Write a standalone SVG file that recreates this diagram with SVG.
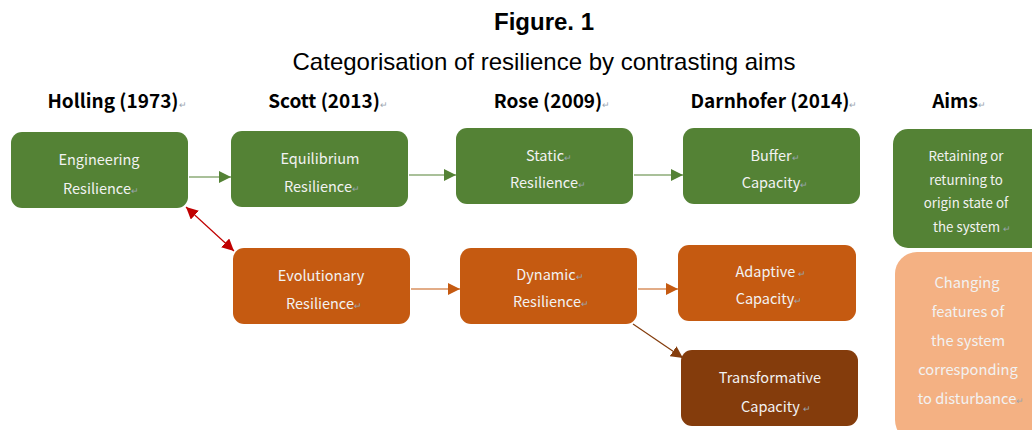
<svg xmlns="http://www.w3.org/2000/svg" width="1032" height="430" viewBox="0 0 1032 430">
  <style>
    .title { font-family: "Liberation Sans", Arial, sans-serif; font-size: 24px; fill: #000; text-anchor: middle; }
    .head { font-family: "Noto Sans CJK KR", "Noto Sans", sans-serif; font-size: 19px; font-weight: bold; fill: #000; text-anchor: middle; }
    .lbl { font-family: "Noto Sans CJK KR", "Noto Sans", sans-serif; font-size: 14.5px; fill: #f2f2f2; text-anchor: middle; }
    .aim1 { font-size: 13.3px; }
    .aim2 { font-size: 14.7px; }
    .pm { font-size: 9px; fill: #9aa5b0; }
    .green { fill: #548235; }
    .orange { fill: #c55a11; }
    .brown { fill: #843c0c; }
    .peach { fill: #f4b183; }
    .conn { fill: none; stroke-width: 1.2; }
  </style>
  <defs>
    <marker id="ahG" viewBox="0 0 10 10" refX="10" refY="5" markerWidth="12" markerHeight="12" markerUnits="userSpaceOnUse" orient="auto">
      <path d="M0,0 L10,5 L0,10 z" fill="#548235"/>
    </marker>
    <marker id="ahO" viewBox="0 0 10 10" refX="10" refY="5" markerWidth="12" markerHeight="12" markerUnits="userSpaceOnUse" orient="auto">
      <path d="M0,0 L10,5 L0,10 z" fill="#c55a11"/>
    </marker>
    <marker id="ahB" viewBox="0 0 10 10" refX="10" refY="5" markerWidth="12" markerHeight="12" markerUnits="userSpaceOnUse" orient="auto">
      <path d="M0,0 L10,5 L0,10 z" fill="#843c0c"/>
    </marker>
    <marker id="ahR" viewBox="0 0 10 10" refX="10" refY="5" markerWidth="12" markerHeight="12" markerUnits="userSpaceOnUse" orient="auto-start-reverse">
      <path d="M0,0 L10,5 L0,10 z" fill="#c00000"/>
    </marker>
  </defs>

  <rect width="1032" height="430" fill="#ffffff"/>

  <!-- titles -->
  <text class="title" x="544" y="30" font-weight="bold">Figure. 1</text>
  <text class="title" x="544" y="70">Categorisation of resilience by contrasting aims</text>

  <!-- column headings -->
  <g id="headings">
    <text class="head" x="117" y="108">Holling (1973)<tspan class="pm" font-weight="normal">↵</tspan></text>
    <text class="head" x="328" y="108">Scott (2013)<tspan class="pm" font-weight="normal">↵</tspan></text>
    <text class="head" x="552" y="108">Rose (2009)<tspan class="pm" font-weight="normal">↵</tspan></text>
    <text class="head" x="774" y="108">Darnhofer (2014)<tspan class="pm" font-weight="normal">↵</tspan></text>
    <text class="head" x="959" y="108">Aims<tspan class="pm" font-weight="normal">↵</tspan></text>
  </g>

  <!-- connectors -->
  <g id="connectors">
    <line class="conn" x1="189" y1="177" x2="231" y2="177" stroke="#548235" marker-end="url(#ahG)"/>
    <line class="conn" x1="409" y1="175" x2="456" y2="175" stroke="#548235" marker-end="url(#ahG)"/>
    <line class="conn" x1="634" y1="175" x2="683" y2="175" stroke="#548235" marker-end="url(#ahG)"/>
    <line class="conn" x1="186" y1="207" x2="234" y2="251" stroke="#c00000" marker-start="url(#ahR)" marker-end="url(#ahR)"/>
    <line class="conn" x1="411" y1="289" x2="460" y2="289" stroke="#c55a11" marker-end="url(#ahO)"/>
    <line class="conn" x1="638" y1="289" x2="678" y2="289" stroke="#c55a11" marker-end="url(#ahO)"/>
    <line class="conn" x1="633" y1="324" x2="683" y2="358" stroke="#843c0c" marker-end="url(#ahB)"/>
  </g>

  <g id="engineering">
    <rect class="green" x="11" y="132" width="177" height="76" rx="11"/>
    <text class="lbl" x="99" y="165">Engineering</text>
    <text class="lbl" x="101" y="194">Resilience<tspan class="pm">↵</tspan></text>
  </g>
  <g id="equilibrium">
    <rect class="green" x="231" y="131" width="177" height="76" rx="11"/>
    <text class="lbl" x="320" y="164">Equilibrium</text>
    <text class="lbl" x="322" y="192">Resilience<tspan class="pm">↵</tspan></text>
  </g>
  <g id="static">
    <rect class="green" x="456" y="128" width="177" height="76" rx="11"/>
    <text class="lbl" x="549" y="161">Static<tspan class="pm">↵</tspan></text>
    <text class="lbl" x="548" y="188">Resilience<tspan class="pm">↵</tspan></text>
  </g>
  <g id="buffer">
    <rect class="green" x="683" y="128" width="177" height="76" rx="11"/>
    <text class="lbl" x="775" y="161">Buffer<tspan class="pm">↵</tspan></text>
    <text class="lbl" x="775" y="188">Capacity<tspan class="pm">↵</tspan></text>
  </g>
  <g id="aims-retain">
    <rect class="green" x="893" y="129" width="160" height="119" rx="15"/>
    <text class="lbl aim1" x="966" y="161">Retaining or</text>
    <text class="lbl aim1" x="966" y="185">returning to</text>
    <text class="lbl aim1" x="966" y="208">origin state of</text>
    <text class="lbl aim1" x="972" y="232">the system <tspan class="pm">↵</tspan></text>
  </g>
  <g id="evolutionary">
    <rect class="orange" x="233" y="248" width="177" height="76" rx="11"/>
    <text class="lbl" x="321" y="281">Evolutionary</text>
    <text class="lbl" x="324" y="309">Resilience<tspan class="pm">↵</tspan></text>
  </g>
  <g id="dynamic">
    <rect class="orange" x="460" y="248" width="177" height="76" rx="11"/>
    <text class="lbl" x="550" y="280">Dynamic<tspan class="pm">↵</tspan></text>
    <text class="lbl" x="551" y="307">Resilience<tspan class="pm">↵</tspan></text>
  </g>
  <g id="adaptive">
    <rect class="orange" x="678" y="245" width="178" height="76" rx="11"/>
    <text class="lbl" x="771" y="277">Adaptive  <tspan class="pm">↵</tspan></text>
    <text class="lbl" x="769" y="304">Capacity<tspan class="pm">↵</tspan></text>
  </g>
  <g id="transformative">
    <rect class="brown" x="681" y="350" width="177" height="76" rx="11"/>
    <text class="lbl" x="770" y="383">Transformative</text>
    <text class="lbl" x="776" y="412">Capacity   <tspan class="pm">↵</tspan></text>
  </g>
  <g id="aims-change">
    <rect class="peach" x="895" y="252" width="160" height="190" rx="22"/>
    <text class="lbl aim2" x="967" y="288">Changing</text>
    <text class="lbl aim2" x="968" y="317">features  of</text>
    <text class="lbl aim2" x="968" y="346">the system</text>
    <text class="lbl aim2" x="968" y="375">corresponding</text>
    <text class="lbl aim2" x="971" y="404">to disturbance<tspan class="pm">↵</tspan></text>
  </g>
</svg>
